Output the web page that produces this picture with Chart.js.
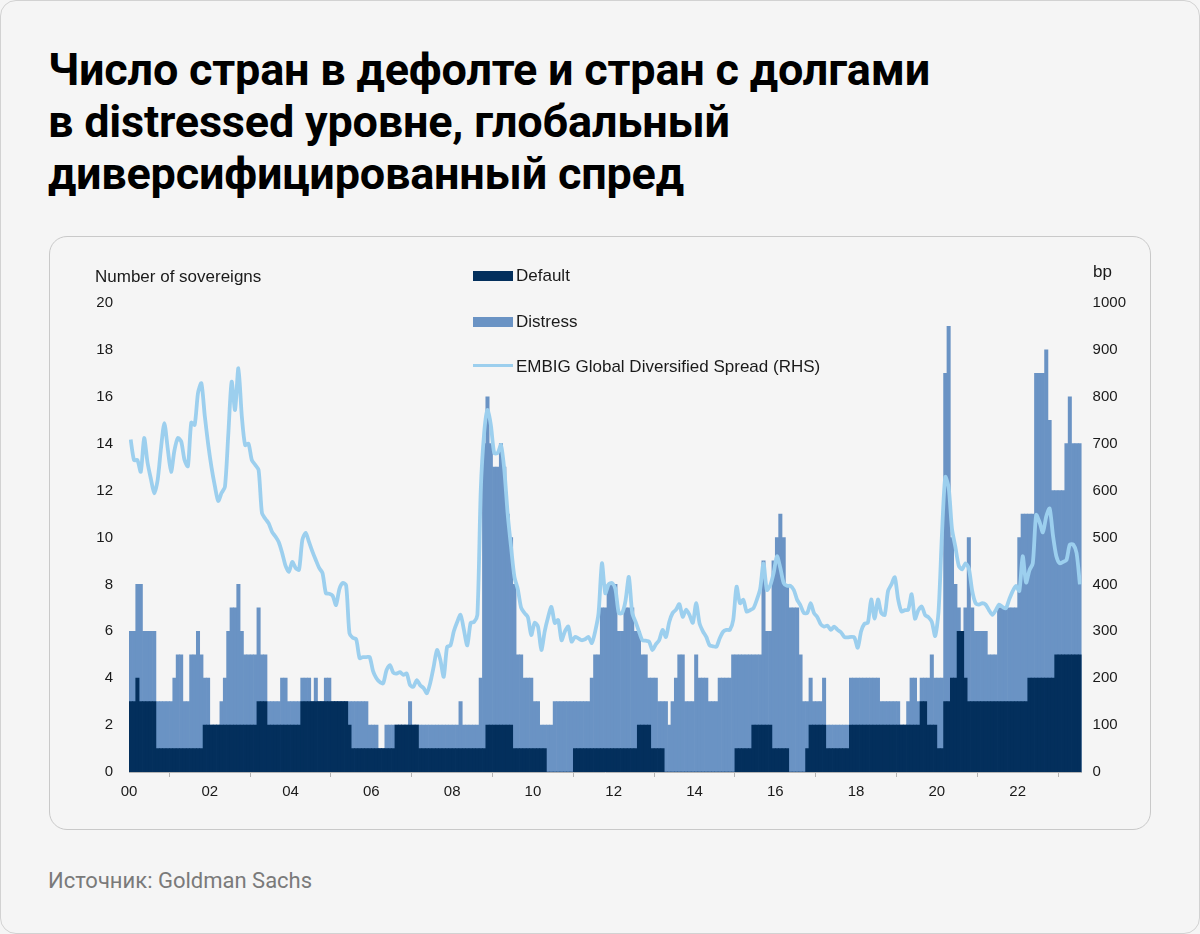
<!DOCTYPE html>
<html>
<head>
<meta charset="utf-8">
<script src="https://cdn.jsdelivr.net/npm/chart.js@4.4.1/dist/chart.umd.min.js"></script>
<style>
html,body{margin:0;padding:0;}
body{width:1200px;height:934px;background:#f5f5f5;position:relative;overflow:hidden;font-family:"Liberation Sans",Arial,sans-serif;}
.frame{position:absolute;left:0;top:0;width:1198px;height:932px;border:1px solid #d2d2d2;border-radius:16px;box-sizing:content-box;}
h1{position:absolute;left:48px;top:44px;margin:0;font-family:Roboto,"Noto Sans",sans-serif;font-weight:700;font-size:45px;line-height:52px;color:#000;letter-spacing:-0.2px;}
.card{position:absolute;left:49px;top:236px;width:1100px;height:592px;border:1px solid #c9c9c9;border-radius:18px;}
#wrap{position:absolute;left:49px;top:236px;width:1102px;height:594px;}
.lbl{position:absolute;font-size:17px;color:#1a1a1a;white-space:nowrap;line-height:20px;}
.sw{position:absolute;}
.src{position:absolute;left:48px;top:868px;font-family:Roboto,"Noto Sans",sans-serif;font-size:22px;color:#7a7a7a;}
</style>
</head>
<body>
<div class="frame"></div>
<h1>Число стран в дефолте и стран с долгами<br>в distressed уровне, глобальный<br>диверсифицированный спред</h1>
<div class="card"></div>
<div id="wrap"><canvas id="c"></canvas></div>

<div class="lbl" style="left:95px;top:267px;">Number of sovereigns</div>
<div class="lbl" style="left:1093px;top:262px;">bp</div>

<div class="sw" style="left:473px;top:271px;width:40px;height:10px;background:#032f5c;"></div>
<div class="lbl" style="left:516px;top:266px;">Default</div>
<div class="sw" style="left:473px;top:317px;width:40px;height:10px;background:#6a93c4;"></div>
<div class="lbl" style="left:516px;top:312px;">Distress</div>
<div class="sw" style="left:473px;top:364px;width:40px;height:3px;background:#9ccfee;"></div>
<div class="lbl" style="left:516px;top:357px;">EMBIG Global Diversified Spread (RHS)</div>

<div class="src">Источник: Goldman Sachs</div>

<script>
// Monthly data, Jan 2000 .. Jul 2023 (one row per year)
const defaultCount = [
  3,3,4,3,3,3,3,3,1,1,1,1,
  1,1,1,1,1,1,1,1,1,1,2,2,
  2,2,2,2,2,2,2,2,2,2,2,2,
  2,2,3,3,3,2,2,2,2,2,2,2,
  2,2,2,3,3,3,3,3,3,3,3,3,
  3,3,3,3,3,2,1,1,1,1,1,1,
  1,1,1,1,1,1,1,2,2,2,2,2,
  2,2,1,1,1,1,1,1,1,1,1,1,
  1,1,1,1,1,1,1,1,1,1,2,2,
  2,2,2,2,2,2,1,1,1,1,1,1,
  1,1,1,1,0,0,0,0,0,0,0,0,
  1,1,1,1,1,1,1,1,1,1,1,1,
  1,1,1,1,1,1,1,2,2,2,2,1,
  1,1,1,0,0,0,0,0,0,0,0,0,
  0,0,0,0,0,0,0,0,0,0,0,0,
  1,1,1,1,1,2,2,2,2,2,2,1,
  1,1,1,1,0,0,0,0,0,1,2,2,
  2,2,2,1,1,1,1,1,1,1,2,2,
  2,2,2,2,2,2,2,2,2,2,2,2,
  2,2,2,2,2,2,2,3,3,2,2,2,
  1,1,3,3,4,4,6,6,4,3,3,3,
  3,3,3,3,3,3,3,3,3,3,3,3,
  3,3,3,4,4,4,4,4,4,4,4,5,
  5,5,5,5,5,5,5
];
// Sovereigns in default or distress (top of the distress bars)
const distressCount = [
  6,6,8,8,6,6,6,6,3,3,3,3,
  3,4,5,5,3,3,5,5,6,5,4,4,
  2,2,2,3,4,6,7,7,8,6,5,5,
  5,5,7,5,5,3,3,3,3,4,4,3,
  3,3,3,4,4,4,3,4,3,3,4,4,
  3,3,3,3,3,3,3,3,3,3,3,2,
  2,2,1,1,2,2,2,2,2,2,2,3,
  2,2,2,2,2,2,2,2,2,2,2,2,
  2,2,3,2,2,2,2,2,4,14,16,14,
  13,13,14,13,11,10,8,5,5,4,4,4,
  3,3,2,2,2,2,3,3,3,3,3,3,
  3,3,3,3,3,4,5,5,7,7,8,8,
  8,6,6,7,7,7,6,6,5,5,4,4,
  4,3,3,3,2,3,4,5,5,3,3,3,
  5,4,4,4,3,3,3,4,4,4,4,5,
  5,5,5,5,5,5,5,5,9,6,6,9,
  10,11,10,8,7,7,7,5,3,3,4,3,
  3,3,4,2,2,2,2,2,2,2,4,4,
  4,4,4,4,4,4,4,3,3,3,3,3,
  3,2,2,3,4,4,3,4,4,4,5,4,
  4,4,17,19,10,8,7,6,7,10,7,6,
  6,6,6,5,5,5,7,7,7,7,7,7,
  10,11,11,11,11,17,17,17,18,15,12,12,
  12,12,14,16,14,14,14
];
// EMBIG Global Diversified spread, bp
const embigSpread = [
  709,665,665,640,712,660,625,594,622,690,744,690,
  640,686,712,705,665,652,745,740,808,829,760,700,
  650,610,578,595,608,720,832,772,861,760,697,700,
  665,655,644,552,540,530,512,502,490,467,440,427,
  448,435,431,495,510,490,470,452,435,424,381,380,
  376,356,390,403,398,296,286,283,243,245,245,245,
  215,200,192,189,217,228,212,210,213,207,210,185,
  182,196,185,179,168,190,224,260,239,203,267,270,
  300,320,335,303,270,318,320,335,600,722,772,740,
  680,680,697,644,550,480,416,390,350,339,330,292,
  318,310,260,300,330,352,318,324,281,300,310,278,
  288,285,281,283,288,275,300,339,445,381,400,403,
  390,339,339,365,416,339,320,300,281,280,278,260,
  272,281,303,288,320,339,346,358,331,346,335,318,
  360,317,300,288,270,268,267,285,299,303,303,324,
  395,360,367,342,345,349,367,390,445,388,398,424,
  460,435,403,397,397,388,367,355,339,339,360,339,
  330,315,310,312,303,310,303,298,288,287,288,287,
  265,300,316,318,368,327,368,339,335,386,400,415,
  368,342,345,346,379,327,345,353,335,330,320,290,
  342,504,629,607,518,480,440,432,445,434,386,360,
  357,360,357,345,335,345,357,352,349,368,385,397,
  386,460,404,430,445,548,533,511,545,562,504,460,
  445,448,452,485,485,467,400
];
const yearTickLabels = ['00','02','04','06','08','10','12','14','16','18','20','22'];
const yearTickMonths = [0,24,48,72,96,120,144,168,192,216,240,264];

const toXY = arr => arr.map((v, i) => ({x: i + 0.5, y: v}));
const nMonths = defaultCount.length;
const tickFont = {family: '"Liberation Sans", Arial, sans-serif', size: 15};

new Chart(document.getElementById('c'), {
  type: 'bar',
  data: {
    datasets: [
      {
        type: 'line', label: 'EMBIG Global Diversified Spread (RHS)',
        data: toXY(embigSpread), yAxisID: 'y1', xAxisID: 'x',
        borderColor: '#9ccfee', borderWidth: 3.8, pointRadius: 0,
        tension: 0.25, fill: false, order: 0, borderJoinStyle: 'round'
      },
      {
        label: 'Default', data: toXY(defaultCount), yAxisID: 'y', xAxisID: 'x',
        backgroundColor: '#032f5c', borderWidth: 0, grouped: false,
        barPercentage: 1, categoryPercentage: 1, order: 1
      },
      {
        label: 'Distress', data: toXY(distressCount), yAxisID: 'y', xAxisID: 'x',
        backgroundColor: '#6a93c4', borderWidth: 0, grouped: false,
        barPercentage: 1, categoryPercentage: 1, order: 2
      }
    ]
  },
  options: {
    responsive: true, maintainAspectRatio: false, animation: false,
    layout: {padding: {top: 67, left: 0, right: 0, bottom: 0}},
    plugins: {legend: {display: false}, tooltip: {enabled: false}},
    scales: {
      x: {
        type: 'linear', min: 0, max: nMonths, offset: false,
        afterFit: s => { s.height = 58; },
        afterBuildTicks: s => { s.ticks = yearTickMonths.map(v => ({value: v})); },
        grid: {display: true, drawOnChartArea: false, drawTicks: true, tickLength: 5, color: '#b5b5b5'},
        border: {display: true, color: '#b5b5b5', width: 1},
        ticks: {font: tickFont, color: '#1a1a1a', padding: 6, maxRotation: 0, autoSkip: false,
          callback: (v, i) => yearTickLabels[i]}
      },
      y: {
        position: 'left', min: 0, max: 20,
        afterFit: s => { s.width = 80; },
        grid: {display: false, drawTicks: false}, border: {display: false},
        ticks: {stepSize: 2, font: tickFont, color: '#1a1a1a', padding: 16}
      },
      y1: {
        position: 'right', min: 0, max: 1000,
        afterFit: s => { s.width = 69.4; },
        grid: {display: false, drawTicks: false}, border: {display: false},
        ticks: {stepSize: 100, font: tickFont, color: '#1a1a1a', padding: 11,
          callback: v => String(v)}
      }
    }
  }
});
</script>
</body>
</html>
